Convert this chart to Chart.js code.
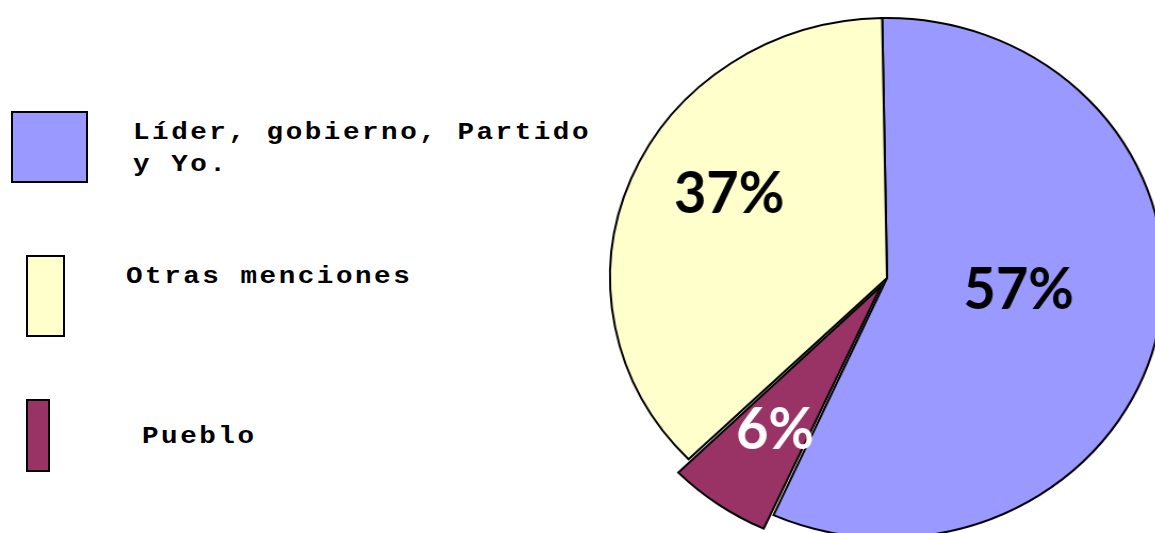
<!DOCTYPE html>
<html>
<head>
<meta charset="utf-8">
<script src="https://cdn.jsdelivr.net/npm/chart.js@4/dist/chart.umd.min.js"></script>
<style>
  html, body { margin: 0; padding: 0; background: #fff; overflow: hidden; width: 1155px; height: 533px; }
  #pieWrap { position: absolute; left: 0; top: 0; width: 1155px; height: 533px;
             transform: scaleX(1.065); transform-origin: 887px 278px; }
  .box { position: absolute; border: 2px solid #000; box-sizing: border-box; }
  .lbl { position: absolute; font-family: "Courier New", "Liberation Mono", monospace; font-weight: bold;
         font-size: 23px; line-height: 32px; letter-spacing: 2.1px; color: #000;
         transform: scaleX(1.2); transform-origin: 0 0; white-space: nowrap; }
</style>
</head>
<body>
<div id="legend"></div>
<div id="pieWrap"><canvas id="pieChart" width="1155" height="533"></canvas></div>
<script>
// --- Data ---
const categories = ['Líder, gobierno, Partido\ny Yo.', 'Pueblo', 'Otras menciones'];
const shares = [57, 6, 37];
const sliceColors = ['#9999FF', '#993366', '#FFFFCC'];
const labelColors = ['#000', '#fff', '#000'];

// --- Legend (drawn as HTML, boxes of differing sizes like the original) ---
const legendOrder = [0, 2, 1];
const legendBoxes = [
    { left: 11, top: 111, w: 77, h: 72 },
    { left: 26, top: 255, w: 39, h: 82 },
    { left: 26, top: 399, w: 24, h: 73 }
];
const legendText = [
    { left: 133, top: 117 },
    { left: 126, top: 261 },
    { left: 142, top: 421 }
];
const legendEl = document.getElementById('legend');
legendOrder.forEach((idx, i) => {
    const b = document.createElement('div');
    b.className = 'box';
    b.style.left = legendBoxes[i].left + 'px';
    b.style.top = legendBoxes[i].top + 'px';
    b.style.width = legendBoxes[i].w + 'px';
    b.style.height = legendBoxes[i].h + 'px';
    b.style.background = sliceColors[idx];
    legendEl.appendChild(b);

    const t = document.createElement('div');
    t.className = 'lbl';
    t.style.left = legendText[i].left + 'px';
    t.style.top = legendText[i].top + 'px';
    t.innerHTML = categories[idx].split('\n').join('<br>');
    legendEl.appendChild(t);
});

// --- Percentage labels inside slices ---
const labelRadius = [0.477, 0.705, 0.658];
const labelAngleShift = [-7, 0, 7.6];

const sliceLabels = {
    id: 'sliceLabels',
    afterDatasetsDraw(chart) {
        const ctx = chart.ctx;
        const meta = chart.getDatasetMeta(0);
        meta.data.forEach((arc, i) => {
            const p = arc.getProps(['x', 'y', 'startAngle', 'endAngle', 'outerRadius'], true);
            const mid = (p.startAngle + p.endAngle) / 2 + labelAngleShift[i] * Math.PI / 180;
            const r = p.outerRadius * labelRadius[i];
            const x = p.x + Math.cos(mid) * r;
            const y = p.y + Math.sin(mid) * r;
            ctx.save();
            ctx.translate(x, y);
            ctx.scale(0.92, 1);
            ctx.font = 'bold 57px Lato';
            ctx.fillStyle = labelColors[i];
            ctx.textAlign = 'center';
            ctx.textBaseline = 'alphabetic';
            ctx.fillText(shares[i] + '%', 0, 21);
            ctx.restore();
        });
    }
};

// --- Pie chart ---
// note: Chart.js v4 draws an arc's offset at a quarter of the value
const pieChart = new Chart(document.getElementById('pieChart').getContext('2d'), {
    type: 'pie',
    data: {
        labels: categories,
        datasets: [{
            data: shares,
            backgroundColor: sliceColors,
            borderColor: '#000',
            borderWidth: 2,
            borderJoinStyle: 'miter',
            offset: [0, 40, 0]
        }]
    },
    options: {
        responsive: false,
        devicePixelRatio: 1,
        animation: false,
        rotation: -1,
        radius: 260,
        layout: { padding: { left: 619, right: 0, top: 23, bottom: 0 } },
        plugins: {
            legend: { display: false },
            tooltip: { enabled: false }
        }
    },
    plugins: [sliceLabels]
});
</script>
</body>
</html>
